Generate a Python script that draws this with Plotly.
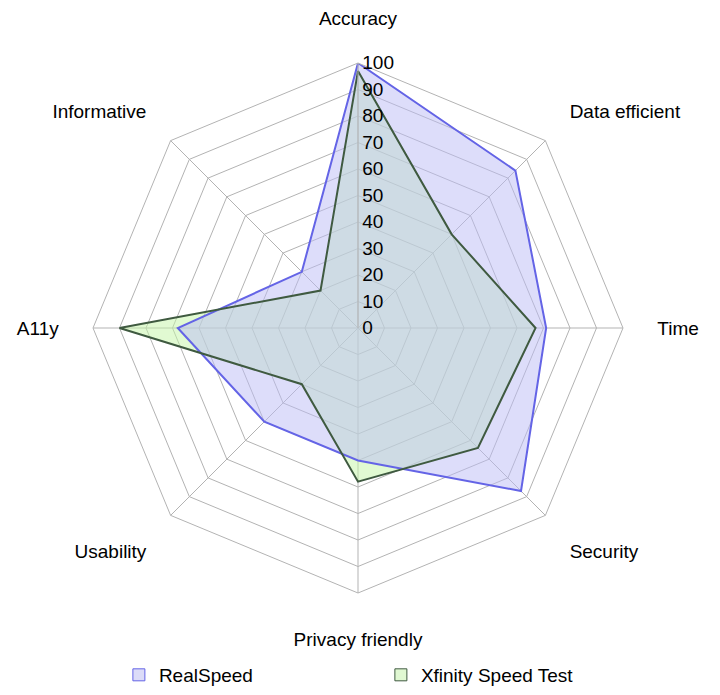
import plotly.graph_objects as go

categories = ["Accuracy", "Data efficient", "Time", "Security",
              "Privacy friendly", "Usability", "A11y", "Informative"]
realspeed = [100, 84, 71, 87, 50, 50, 68, 30]
xfinity = [97, 50, 67, 64, 58, 30, 90, 20]
radial_ticks = [0, 10, 20, 30, 40, 50, 60, 70, 80, 90, 100]

def closed(v):
    return list(v) + [v[0]]

fig = go.Figure()
# Xfinity fill first so RealSpeed's translucent fill lies over it (as in the reference)
fig.add_trace(go.Scatterpolar(
    r=closed(xfinity), theta=closed(categories), name="Xfinity Speed Test",
    mode="lines", fill="toself", showlegend=False,
    fillcolor="rgba(195,245,165,0.5)",
    line=dict(color="rgba(0,0,0,0)", width=0),
    hoverinfo="skip",
))
fig.add_trace(go.Scatterpolar(
    r=closed(realspeed), theta=closed(categories), name="RealSpeed",
    mode="lines", fill="toself", showlegend=False,
    fillcolor="rgba(187,187,245,0.5)",
    line=dict(color="#6464e6", width=2),
))
# Xfinity outline on top
fig.add_trace(go.Scatterpolar(
    r=closed(xfinity), theta=closed(categories), name="Xfinity Speed Test",
    mode="lines", showlegend=False,
    line=dict(color="#3f5a40", width=2),
))
# legend-only entries with square swatches
fig.add_trace(go.Scatter(
    x=[None], y=[None], name="RealSpeed", mode="markers",
    marker=dict(symbol="square", size=12, color="#dcdcf8",
                line=dict(color="#6464e6", width=1)),
))
fig.add_trace(go.Scatter(
    x=[None], y=[None], name="Xfinity Speed Test", mode="markers",
    marker=dict(symbol="square", size=12, color="#e0f8d2",
                line=dict(color="#3f5a40", width=1)),
))

W, H = 720, 695
fig.update_layout(
    width=W, height=H,
    margin=dict(l=0, r=0, t=0, b=0, autoexpand=False),
    paper_bgcolor="white", plot_bgcolor="white",
    font=dict(family="Liberation Sans, Arial, sans-serif", size=19, color="#000000"),
    xaxis=dict(visible=False), yaxis=dict(visible=False),
    polar=dict(
        domain=dict(x=[85 / W, 615 / W], y=[110 / H, 640 / H]),
        bgcolor="white",
        gridshape="linear",
        radialaxis=dict(
            range=[0, 100], tickvals=radial_ticks, ticktext=[str(t) for t in radial_ticks],
            angle=90, tickangle=90, side="clockwise",
            showline=True, linecolor="#b3b3b3", linewidth=1,
            gridcolor="#b3b3b3", gridwidth=1,
            ticks="", tickfont=dict(size=19, color="#000000"),
        ),
        angularaxis=dict(
            direction="clockwise", rotation=90,
            showline=True, linecolor="#b3b3b3", linewidth=1,
            gridcolor="#b3b3b3", gridwidth=1,
            ticks="outside", ticklen=30, tickcolor="rgba(0,0,0,0)",
            tickfont=dict(size=19, color="#000000"),
        ),
    ),
    legend=dict(
        orientation="h", x=0.154, xanchor="left", y=0.013, yanchor="bottom",
        entrywidth=217, font=dict(size=19),
    ),
    showlegend=True,
)

fig.write_html("out.html")
